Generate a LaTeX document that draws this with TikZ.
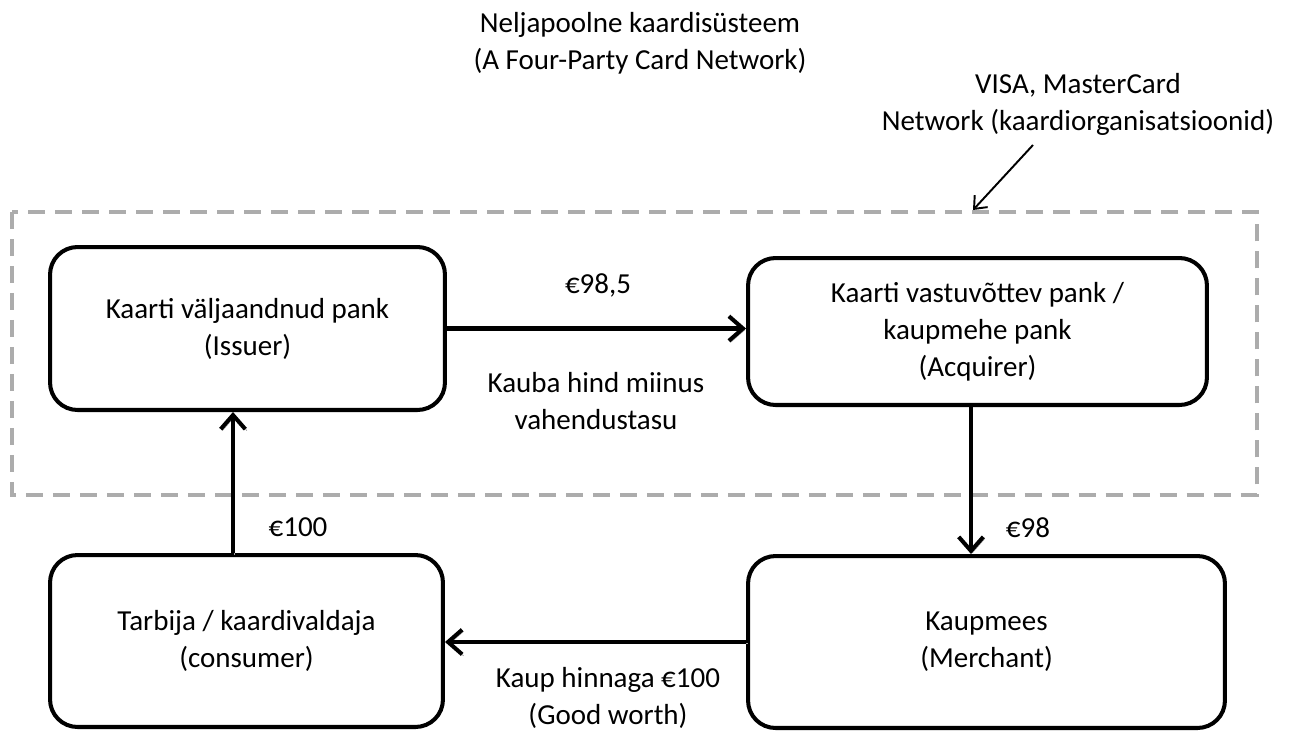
\documentclass[tikz,border=0pt]{standalone}
\usepackage{fontspec}
\setmainfont{Carlito}
\usepackage{tikz}
\usetikzlibrary{arrows.meta}

\begin{document}
\begin{tikzpicture}[x=0.02cm, y=-0.02cm,
    every node/.style={font=\fontsize{16.5}{21}\selectfont, align=center, inner sep=0pt},
    party/.style={draw, line width=2.3pt, rounded corners=0.55cm, fill=white},
    flow/.style={line width=2.3pt, -{Straight Barb[length=8pt, width=14pt]},
        preaction={draw, gray!70, transform canvas={xshift=0.9pt, yshift=-0.9pt}}}]
    \useasboundingbox (0,0) rectangle (1298,731);
    % network frame
    \draw[gray!65, line width=2.2pt, dash pattern=on 0.34cm off 0.2cm] (12,212) rectangle (1257,495);
    \node (title) at (640,43) {Neljapoolne kaardisüsteem\\(A Four-Party Card Network)};
    \node (visa) at (1078,104) {VISA, MasterCard\\Network (kaardiorganisatsioonid)};
    \coordinate (visaarr) at (1033,145);
    \coordinate (nettop) at (973,210);
    \draw[line width=1.1pt, -{Straight Barb[length=6pt, width=10pt]}] (visaarr) -- (nettop);
    % the four parties
    \node[party, minimum width=7.9cm, minimum height=3.26cm] (issuer) at (247.5,328.5)
        {Kaarti väljaandnud pank\\(Issuer)};
    \node[party, minimum width=9.18cm, minimum height=2.94cm] (acquirer) at (977.5,331.5)
        {Kaarti vastuvõttev pank /\\kaupmehe pank\\(Acquirer)};
    \node[party, minimum width=7.86cm, minimum height=3.44cm] (consumer) at (246.5,641)
        {Tarbija / kaardivaldaja\\(consumer)};
    \node[party, minimum width=9.54cm, minimum height=3.44cm] (merchant) at (986.5,642)
        {Kaupmees\\(Merchant)};
    % money and goods
    \draw[flow] (issuer.east) -- (issuer.east -| acquirer.west);
    \draw[flow] ([xshift=-0.13cm]acquirer.south) -- ([xshift=-0.13cm]acquirer.south |- merchant.north);
    \draw[flow] (merchant.west) -- (merchant.west -| consumer.east);
    \draw[flow] ([xshift=-0.27cm]consumer.north) -- ([xshift=-0.27cm]consumer.north |- issuer.south);
    \node (p985) at (598,285) {€98,5};
    \node (fee) at (596,401) {Kauba hind miinus\\vahendustasu};
    \node (p98) at (1028,528) {€98};
    \node (p100) at (298,527) {€100};
    \node (goods) at (608,698) {Kaup hinnaga €100\\(Good worth)};
\end{tikzpicture}
\end{document}
